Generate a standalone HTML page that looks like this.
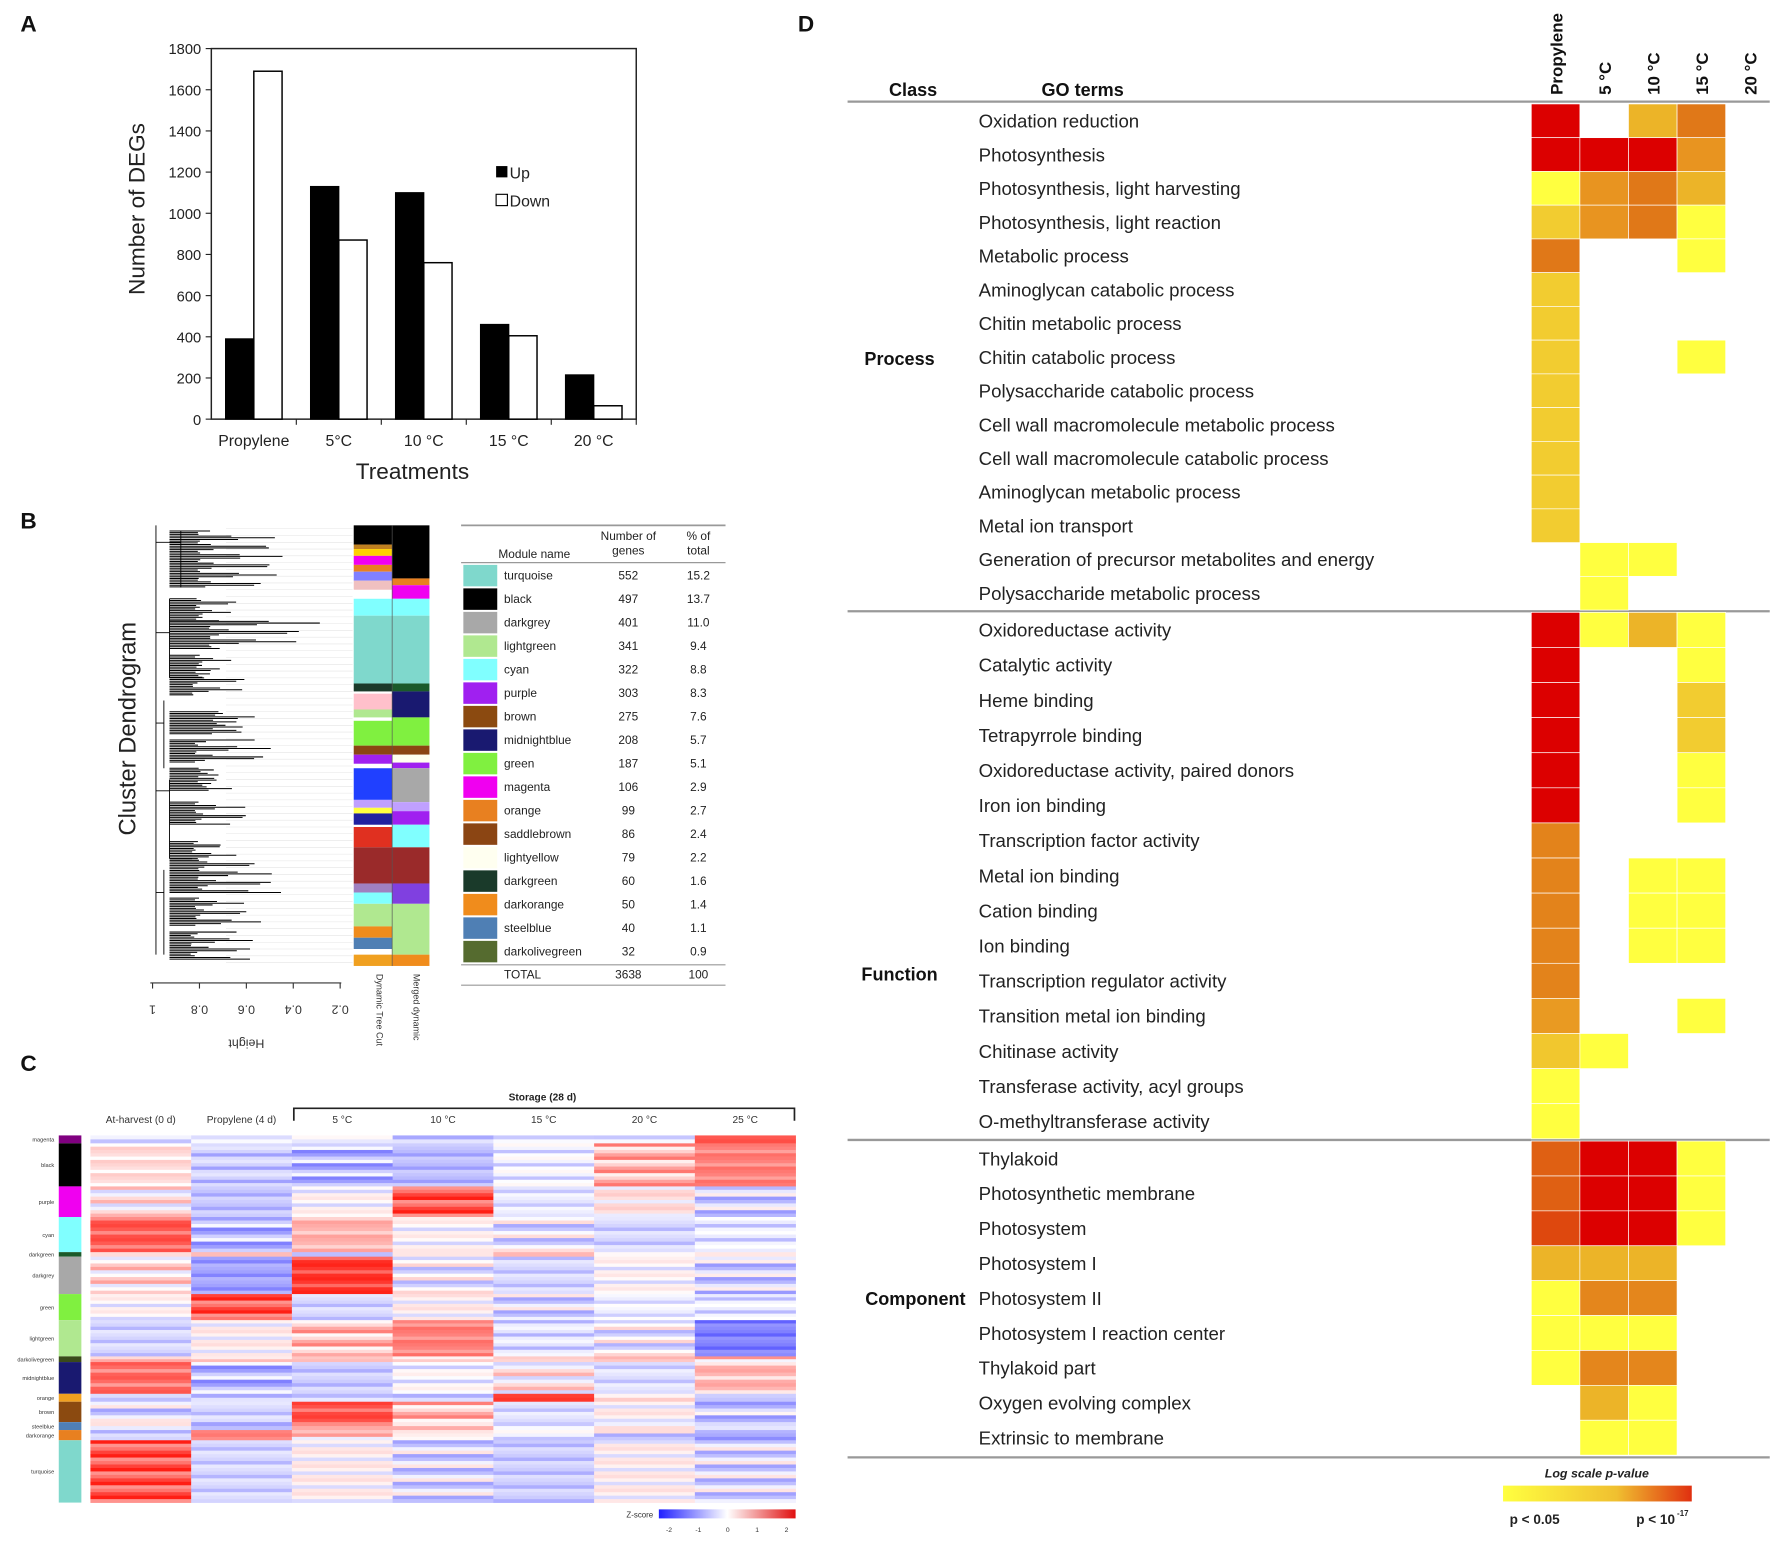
<!DOCTYPE html>
<html><head><meta charset="utf-8"><style>
html,body{margin:0;padding:0;background:#fff;width:1772px;height:1541px;overflow:hidden}
svg{display:block;font-family:"Liberation Sans",Arial,sans-serif}
</style></head><body>
<svg id="fig" width="1772" height="1541" viewBox="0 0 1568 1364" preserveAspectRatio="none" xmlns="http://www.w3.org/2000/svg">
<rect width="1568" height="1364" fill="#fff"/>
<g font-weight="bold" font-size="20" fill="#111">
<text x="18" y="28">A</text>
<text x="18" y="468">B</text>
<text x="18" y="948">C</text>
<text x="706" y="28">D</text>
</g>
<g id="pa"></g>
<g id="pb"></g>
<g id="pc"></g>
<g id="pd"></g>
</svg>
<script>
// ---------- Panel A data ----------
const aCategories = ["Propylene","5\u00B0C","10 \u00B0C","15 \u00B0C","20 \u00B0C"];
const aUp = [390,1130,1100,460,215];
const aDown = [1690,870,760,405,65];
const aTicks = [0,200,400,600,800,1000,1200,1400,1600,1800];

// ---------- Panel B data ----------
const bModules = ["turquoise","black","darkgrey","lightgreen","cyan","purple","brown","midnightblue","green","magenta","orange","saddlebrown","lightyellow","darkgreen","darkorange","steelblue","darkolivegreen"];
const bColors = ["#7fd8cc","#000000","#a8a8a8","#b0e890","#80ffff","#a020f0","#8b4a10","#191970","#80f040","#f000f0","#e88020","#8b4513","#fffff0","#1a3a2a","#f08c1c","#4f7fb4","#556b2f"];
const bGenes = [552,497,401,341,322,303,275,208,187,106,99,86,79,60,50,40,32];
const bPct = ["15.2","13.7","11.0","9.4","8.8","8.3","7.6","5.7","5.1","2.9","2.7","2.4","2.2","1.6","1.4","1.1","0.9"];

// ---------- Panel C data ----------
const cColumns = ["At-harvest (0 d)","Propylene (4 d)","5 \u00B0C","10 \u00B0C","15 \u00B0C","20 \u00B0C","25 \u00B0C"];
const cModules = ["magenta","black","purple","cyan","darkgreen","darkgrey","green","lightgreen","darkolivegreen","midnightblue","orange","brown","steelblue","darkorange","turquoise"];
const cModColors = ["#800080","#000000","#f000f0","#80ffff","#1a5a2a","#a8a8a8","#80f040","#b0e890","#3a4a1a","#191970","#f0a020","#8b4a10","#4f7fb4","#e88020","#7fd8cc"];
const cModSizes = [7,38,27,31,4,33,23,32,5,28,7,18,7,9,55];
const cZ = [
 [-0.5,0.3,0.2,-0.8,-0.3,-0.2,1.5],
 [0.5,-0.9,-0.8,-0.7,-0.5,0.9,1.6],
 [0.2,-0.6,-0.3,2.0,-0.2,0.0,-0.5],
 [1.6,-0.8,1.0,-0.3,-0.3,-0.4,-0.6],
 [0.3,0.2,-1.5,0.3,0.5,0.8,0.4],
 [0.4,-1.0,2.0,-0.2,-0.4,-0.3,-0.5],
 [-0.3,2.0,-0.4,-0.2,-0.4,-0.1,-0.6],
 [-0.4,-0.2,0.8,1.6,-0.7,-0.2,-1.4],
 [0.8,0.7,0.2,-0.1,0.5,0.3,0.6],
 [1.4,-0.8,-0.5,-0.4,0.2,-0.3,0.5],
 [-0.3,-0.8,-0.5,-0.5,1.8,-0.1,-0.7],
 [-0.4,-0.4,1.7,0.8,-0.3,-0.2,-0.6],
 [0.0,-0.4,1.5,0.5,-0.3,0.3,-0.9],
 [-0.5,1.0,0.5,0.2,-0.5,-0.3,-0.9],
 [2.0,-0.4,-0.2,-0.4,-0.5,-0.2,-0.4]
];
const cRowTexture = [0.3,-0.4,0.6,-0.2,0.1,-0.6,0.4,0.0,-0.3,0.5,-0.1,0.2];

// ---------- Panel D data ----------
const dTerms = ["Oxidation reduction","Photosynthesis","Photosynthesis, light harvesting","Photosynthesis, light reaction","Metabolic process","Aminoglycan catabolic process","Chitin metabolic process","Chitin catabolic process","Polysaccharide catabolic process","Cell wall macromolecule metabolic process","Cell wall macromolecule catabolic process","Aminoglycan metabolic process","Metal ion transport","Generation of precursor metabolites and energy","Polysaccharide metabolic process",
"Oxidoreductase activity","Catalytic activity","Heme binding","Tetrapyrrole binding","Oxidoreductase activity, paired donors","Iron ion binding","Transcription factor activity","Metal ion binding","Cation binding","Ion binding","Transcription regulator activity","Transition metal ion binding","Chitinase activity","Transferase activity, acyl groups","O-methyltransferase activity",
"Thylakoid","Photosynthetic membrane","Photosystem","Photosystem I","Photosystem II","Photosystem I reaction center","Thylakoid part","Oxygen evolving complex","Extrinsic to membrane"];
const dColumns = ["Propylene","5 \u00B0C","10 \u00B0C","15 \u00B0C","20 \u00B0C"];
const dLevels = [
 [6,0,3,5,0],[6,6,6,4,0],[1,4,5,3,0],[2,4,5,1,0],[5,0,0,1,0],[2,0,0,0,0],[2,0,0,0,0],[2,0,0,1,0],[2,0,0,0,0],[2,0,0,0,0],[2,0,0,0,0],[2,0,0,0,0],[2,0,0,0,0],[0,1,1,0,0],[0,1,0,0,0],
 [6,1,3,1,0],[6,0,0,1,0],[6,0,0,2,0],[6,0,0,2,0],[6,0,0,1,0],[6,0,0,1,0],[4.6,0,0,0,0],[4.6,0,1,1,0],[4.6,0,1,1,0],[4.6,0,1,1,0],[4.6,0,0,0,0],[3.8,0,0,1,0],[2.2,1,0,0,0],[1,0,0,0,0],[1,0,0,0,0],
 [5.2,6,6,1,0],[5.2,6,6,1,0],[5.4,6,6,1,0],[3,3,3,0,0],[1,4.5,4.5,0,0],[1,1,1,0,0],[1,4.5,4.5,0,0],[0,3,1,0,0],[0,1,1,0,0]
];
const dClasses = ["Process","Function","Component"];
const dClassCounts = [15,15,9];

const NS="http://www.w3.org/2000/svg";
function mk(parent,tag,attrs,text){const e=document.createElementNS(NS,tag);for(const k in attrs)e.setAttribute(k,attrs[k]);if(text!==undefined)e.textContent=text;parent.appendChild(e);return e;}

// ================= Panel A =================
(function(){
 const g=document.getElementById('pa');
 const x0=187,x1=563,y0=371,y1=43,max=1800;
 const ys=v=>y0-(v/max)*(y0-y1);
 const cw=(x1-x0)/aCategories.length;
 const xs=i=>x0+cw*(i+0.5);
 const frame=mk(g,'rect',{x:x0,y:y1,width:x1-x0,height:y0-y1,fill:'none',stroke:'#222','stroke-width':1.3});
 
 
 aTicks.forEach(t=>{
  const tl=mk(g,'line',{x1:x0-5,x2:x0,y1:ys(t),y2:ys(t),stroke:'#222'});
  
  
  const tx=mk(g,'text',{x:x0-9,y:ys(t)+5,'text-anchor':'end','font-size':13,fill:'#222'},t);
  
  
 });
 aCategories.forEach((c,i)=>{
  const bw=25;
  const up=mk(g,'rect',{x:xs(i)-bw,y:ys(aUp[i]),width:bw,height:y0-ys(aUp[i]),fill:'#000',stroke:'#000'});
  
  
  const dn=mk(g,'rect',{x:xs(i),y:ys(aDown[i]),width:bw,height:y0-ys(aDown[i]),fill:'#fff',stroke:'#000','stroke-width':1.3});
  
  
  const tk=mk(g,'line',{x1:x0+cw*(i+1),x2:x0+cw*(i+1),y1:y0,y2:y0+5,stroke:'#222'});
  
  
  const lb=mk(g,'text',{x:xs(i),y:y0+24,'text-anchor':'middle','font-size':14,fill:'#222'},c);
  
  
 });
 const yt=mk(g,'text',{x:128,y:185,'text-anchor':'middle','font-size':20,fill:'#222',transform:'rotate(-90 128 185)'},'Number of DEGs');
 
 
 const xt=mk(g,'text',{x:365,y:424,'text-anchor':'middle','font-size':20,fill:'#222'},'Treatments');
 
 
 const l1=mk(g,'rect',{x:439,y:147,width:10,height:10,fill:'#000'});
 
 
 const l1t=mk(g,'text',{x:451,y:158,'font-size':14,fill:'#222'},'Up');
 
 
 const l2=mk(g,'rect',{x:439,y:172,width:10,height:10,fill:'#fff',stroke:'#000'});
 
 
 const l2t=mk(g,'text',{x:451,y:183,'font-size':14,fill:'#222'},'Down');
 
 
})();

// ================= Panel B =================
(function(){
 const g=document.getElementById('pb');
 const fl=mk(g,'g',{stroke:'#e4e4e4','stroke-width':0.5});
 
 
 for(let y=468;y<855;y+=6)mk(fl,'line',{x1:200,x2:312,y1:y,y2:y});
 const dg=mk(g,'g',{stroke:'#000','stroke-width':0.8,fill:'none'});
 
 
 mk(dg,'path',{d:'M138 465 V845 M138 480 H160 M138 560 H150 M138 640 H145 M138 700 H150 M138 790 H145 M160 470 V520 M150 530 V600 M145 620 V680 M150 690 V760 M145 770 V845'});
 const clusters=[[470,520,250],[530,550,240],[550,575,290],[580,600,240],[600,615,230],[630,650,300],[655,675,240],[680,700,250],[710,730,240],[745,760,230],[760,790,250],[795,820,240],[825,850,225]];
 clusters.forEach((c,i)=>{
  let d='';
  for(let y=c[0];y<=c[1];y+=1.5){const f=Math.abs(Math.sin(y*1.7)*Math.cos(y*0.37));const len=(c[2]-150)*(0.25+0.75*f*f);d+='M150 '+y+' H'+(150+len)+' ';}
  const p=mk(dg,'path',{d:d,'stroke-width':0.9});
  
  
 });
 const dyn=[["#000",465,482],["#c08020",482,486],["#ffd000",486,492],["#f000f0",492,500],["#e88020",500,506],["#8080ff",506,514],["#f0c0c0",514,522],["#80ffff",530,545],["#7fd8cc",545,605],["#1a3a2a",605,612],["#ffc0cb",614,628],["#b0e890",628,635],["#80f040",638,660],["#8b4513",660,668],["#a020f0",668,676],["#2040ff",680,708],["#c0a0ff",708,715],["#ffff40",715,720],["#2020a0",720,730],["#e03020",732,750],["#9a2a2a",750,782],["#a080c0",782,790],["#80ffff",790,800],["#b0e890",800,820],["#f08c1c",820,830],["#4f7fb4",830,840],["#f0a020",845,855]];
 const mer=[["#000",465,512],["#e88020",512,518],["#f000f0",518,530],["#80ffff",530,545],["#7fd8cc",545,605],["#1a5a2a",605,612],["#191970",612,635],["#80f040",635,660],["#8b4513",660,668],["#fffff0",668,675],["#a020f0",675,680],["#a8a8a8",680,710],["#c0a0ff",710,718],["#a020f0",718,730],["#80ffff",730,750],["#9a2a2a",750,782],["#8040e0",782,800],["#b0e890",800,845],["#f08c1c",845,855]];
 dyn.forEach(s=>{const r=mk(g,'rect',{x:313,y:s[1],width:34,height:s[2]-s[1],fill:s[0]});});
 mer.forEach(s=>{const r=mk(g,'rect',{x:347,y:s[1],width:33,height:s[2]-s[1],fill:s[0]});});
 mk(g,'line',{x1:347,x2:347,y1:465,y2:855,stroke:'#555','stroke-width':0.6});
 const ax=mk(g,'line',{x1:133,x2:302,y1:870,y2:870,stroke:'#333'});
 
 
 ["1","0.8","0.6","0.4","0.2"].forEach((t,i)=>{
  const x=135+i*41.5;
  mk(g,'line',{x1:x,x2:x,y1:870,y2:875,stroke:'#333'});
  const tx=mk(g,'text',{x:x,y:880,'font-size':11,'text-anchor':'middle',fill:'#333',transform:'rotate(180 '+x+' 885)'},t);
  
  
 });
 const ht=mk(g,'text',{x:218,y:912,'font-size':11,'text-anchor':'middle',fill:'#333',transform:'rotate(180 218 916)'},'Height');
 
 
 const yt=mk(g,'text',{x:120,y:645,'font-size':21,'text-anchor':'middle',fill:'#222',transform:'rotate(-90 120 645)'},'Cluster Dendrogram');
 
 
 const d1=mk(g,'text',{x:333,y:862,'font-size':8,fill:'#333',transform:'rotate(90 333 862)'},'Dynamic Tree Cut');
 
 
 const d2=mk(g,'text',{x:366,y:862,'font-size':8,fill:'#333',transform:'rotate(90 366 862)'},'Merged dynamic');
 
 
 const tb=mk(g,'g',{'font-size':10.5,fill:'#222'});
 
 
 mk(tb,'line',{x1:408,x2:642,y1:465,y2:465,stroke:'#999','stroke-width':1.5});
 mk(tb,'line',{x1:408,x2:642,y1:498,y2:498,stroke:'#999','stroke-width':1.2});
 mk(tb,'text',{x:441,y:494},'Module name');
 mk(tb,'text',{x:556,y:478,'text-anchor':'middle'},'Number of');
 mk(tb,'text',{x:556,y:491,'text-anchor':'middle'},'genes');
 mk(tb,'text',{x:618,y:478,'text-anchor':'middle'},'% of');
 mk(tb,'text',{x:618,y:491,'text-anchor':'middle'},'total');
 bModules.forEach((m,i)=>{
  const y=499+i*20.8;
  const sw=mk(tb,'rect',{x:410,y:y+1,width:30,height:19,fill:bColors[i]});
  
  
  mk(tb,'text',{x:446,y:y+14},m);
  mk(tb,'text',{x:556,y:y+14,'text-anchor':'middle'},bGenes[i]);
  mk(tb,'text',{x:618,y:y+14,'text-anchor':'middle'},bPct[i]);
 });
 mk(tb,'line',{x1:408,x2:642,y1:854,y2:854,stroke:'#999'});
 mk(tb,'text',{x:446,y:866},'TOTAL');
 mk(tb,'text',{x:556,y:866,'text-anchor':'middle'},bGenes.reduce((a,b)=>a+b,0));
 mk(tb,'text',{x:618,y:866,'text-anchor':'middle'},'100');
 mk(tb,'line',{x1:408,x2:642,y1:872,y2:872,stroke:'#999'});
})();

// ================= Panel C =================
(function(){
 const g=document.getElementById('pc');
 const x0=80,x1=704,y0=1005,y1=1330;
 const cw=(x1-x0)/cColumns.length;
 const total=cModSizes.reduce((a,b)=>a+b,0);
 const rs=(y1-y0)/total;
 function zc(z){z=Math.max(-2,Math.min(2,z));const t=Math.abs(z)/2;
  if(z<0)return 'rgb('+Math.round(255-t*(255-32))+','+Math.round(255-t*(255-32))+',255)';
  return 'rgb(255,'+Math.round(255-t*(255-30))+','+Math.round(255-t*(255-20))+')';}
 let acc=0;
 cModules.forEach((m,mi)=>{
  const yA=y0+acc*rs,h=cModSizes[mi]*rs;
  const sb=mk(g,'rect',{x:52,y:yA,width:20,height:h,fill:cModColors[mi]});
  
  
  const lb=mk(g,'text',{x:48,y:yA+h/2+2,'font-size':5,'text-anchor':'end',fill:'#333'},m);
  
  
  const nSub=Math.max(1,Math.round(h/3));
  for(let s=0;s<nSub;s++){
   cColumns.forEach((c,ci)=>{
    const tex=cRowTexture[(s*3+ci*5+mi)%cRowTexture.length];
    const z=cZ[mi][ci]*0.75+tex*0.9;
    const r=mk(g,'rect',{x:x0+ci*cw,y:yA+s*h/nSub,width:cw+0.3,height:h/nSub+0.3,fill:zc(z)});
    
    
   });
  }
  acc+=cModSizes[mi];
 });
 cColumns.forEach((c,i)=>{
  const t=mk(g,'text',{x:x0+cw*(i+0.5),y:994,'font-size':9,'text-anchor':'middle',fill:'#333'},c);
  
  
 });
 const br=mk(g,'path',{d:'M260 992 V981 H703 V992',stroke:'#222','stroke-width':1.5,fill:'none'});
 
 
 const st=mk(g,'text',{x:480,y:974,'font-size':9,'font-weight':'bold','text-anchor':'middle',fill:'#222'},'Storage (28 d)');
 
 
 const defs=mk(g,'defs',{});
 const lg=mk(defs,'linearGradient',{id:'zg'});
 mk(lg,'stop',{offset:'0','stop-color':'#2020ff'});
 mk(lg,'stop',{offset:'0.5','stop-color':'#ffffff'});
 mk(lg,'stop',{offset:'1','stop-color':'#e01010'});
 const kb=mk(g,'rect',{x:583,y:1336,width:121,height:8,fill:'url(#zg)'});
 
 
 const kt=mk(g,'text',{x:578,y:1343,'font-size':7,'text-anchor':'end',fill:'#333'},'Z-score');
 
 
 ["-2","-1","0","1","2"].forEach((t,i)=>{const e=mk(g,'text',{x:592+i*26,y:1356,'font-size':6,'text-anchor':'middle',fill:'#333'},t);});
})();

// ================= Panel D =================
(function(){
 const g=document.getElementById('pd');
 const colX0=1355,colW=43;
 const levelColors=['none','#ffff40','#f2cc30','#ecb428','#e89420','#e07818','#dc0000'];
 function lc(v){if(v<=0)return null;const i=Math.floor(v),f=v-i;if(i>=6)return levelColors[6];
  if(f===0)return levelColors[i];
  const a=levelColors[i],b=levelColors[i+1];const p=s=>[1,3,5].map(k=>parseInt(s.substr(k,2),16));
  const A=p(a),B=p(b);return 'rgb('+A.map((x,k)=>Math.round(x+(B[k]-x)*f)).join(',')+')';}
 const secTop=[92,542,1010],secBot=[540,1008,1288];
 let idx=0;
 const hdr=mk(g,'g',{'font-size':16,'font-weight':'bold',fill:'#111'});
 
 
 mk(hdr,'text',{x:808,y:85,'text-anchor':'middle'},'Class');
 mk(hdr,'text',{x:958,y:85,'text-anchor':'middle'},'GO terms');
 dColumns.forEach((c,i)=>{const x=colX0+colW*(i+0.5)+6;const t=mk(hdr,'text',{x:x,y:84,transform:'rotate(-90 '+x+' 84)','font-size':15},c);});
 [90,541,1009,1290].forEach(y=>{const l=mk(g,'line',{x1:750,x2:1566,y1:y,y2:y,stroke:'#999','stroke-width':2});});
 dClasses.forEach((cl,si)=>{
  const n=dClassCounts[si],rh=(secBot[si]-secTop[si])/n;
  for(let r=0;r<n;r++,idx++){
   const y=secTop[si]+r*rh;
   const t=mk(g,'text',{x:866,y:y+rh/2+6,'font-size':16.5,fill:'#222'},dTerms[idx]);
   
   
   dLevels[idx].forEach((v,ci)=>{
    const col=lc(v);if(!col)return;
    const c=mk(g,'rect',{x:colX0+ci*colW,y:y,width:colW,height:rh,fill:col,stroke:'#fff','stroke-width':0.6});
    
    
   });
  }
  const cy=[317,862,1149][si];
  const ct=mk(g,'text',{x:si===2?810:796,y:cy+6,'font-size':16,'font-weight':'bold','text-anchor':'middle',fill:'#111'},cl);
  
  
 });
 const defs=mk(g,'defs',{});
 const lg=mk(defs,'linearGradient',{id:'pg'});
 mk(lg,'stop',{offset:'0','stop-color':'#ffff40'});
 mk(lg,'stop',{offset:'0.6','stop-color':'#f0c030'});
 mk(lg,'stop',{offset:'1','stop-color':'#e03010'});
 const kb=mk(g,'rect',{x:1330,y:1315,width:167,height:14,fill:'url(#pg)'});
 
 
 const kt=mk(g,'text',{x:1413,y:1308,'font-size':11,'font-weight':'bold','font-style':'italic','text-anchor':'middle',fill:'#222'},'Log scale p-value');
 
 
 const k1=mk(g,'text',{x:1358,y:1349,'font-size':12,'font-weight':'bold','text-anchor':'middle',fill:'#222'},'p < 0.05');
 
 
 const k2=mk(g,'text',{x:1465,y:1349,'font-size':12,'font-weight':'bold','text-anchor':'middle',fill:'#222'},'p < 10');
 
 
 const k3=mk(g,'text',{x:1484,y:1342,'font-size':7,'font-weight':'bold',fill:'#222'},'-17');
 
 
})();
</script>
</body></html>
